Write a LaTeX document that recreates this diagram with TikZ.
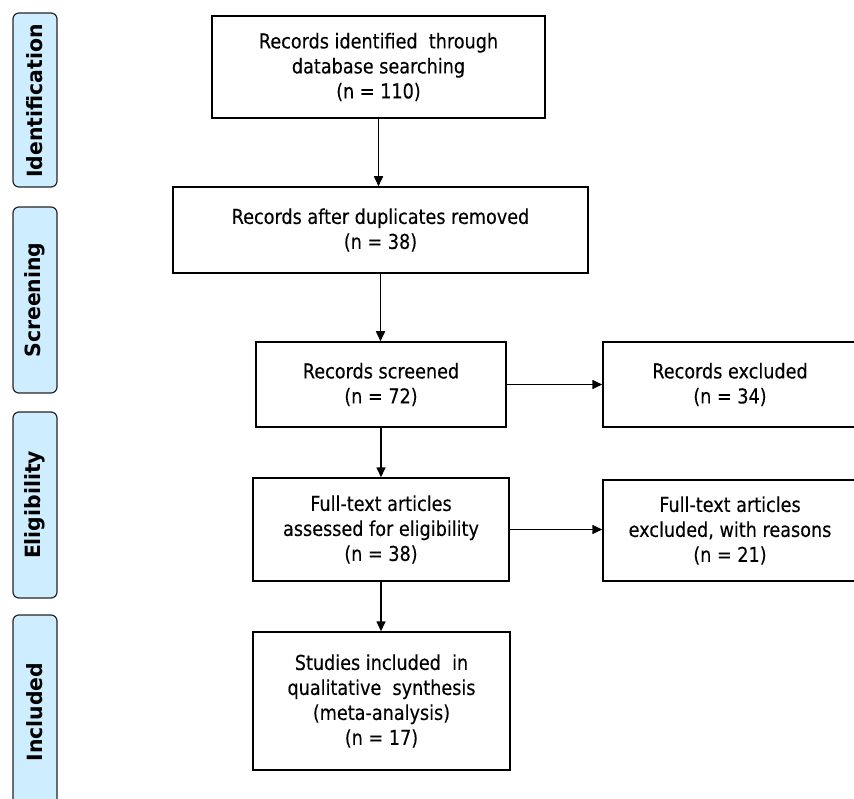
\documentclass[tikz,border=0pt]{standalone}
\usepackage{fontspec}
\setmainfont{DejaVu Sans}[FakeStretch=0.86,FakeBold=0.2]
\newfontfamily\phasefont{DejaVu Sans}[FakeStretch=0.97]
\usetikzlibrary{arrows.meta}
\definecolor{phasefill}{RGB}{206,238,255}
\begin{document}
\begin{tikzpicture}[x=1pt,y=-1pt,
  box/.style={draw=black,line width=1.5pt,fill=white,align=center,inner sep=0pt,
    font=\fontsize{20.5}{25}\selectfont},
  phase/.style={draw=black!85,line width=1.2pt,fill=phasefill,rounded corners=6pt},
  phasetext/.style={rotate=90,font=\phasefont\fontsize{21}{22}\selectfont\bfseries,inner sep=0pt},
  arr/.style={line width=1.6pt,-{Triangle[length=10pt,width=9pt]}}]
\useasboundingbox (0,0) rectangle (854,799);
\fill[white] (0,0) rectangle (854,799);
% phase bars
\draw[phase] (13,13) rectangle (57,187);
\node[phasetext] (pid) at (35,101) {Identification};
\draw[phase] (13,207) rectangle (57,393);
\node[phasetext] (psc) at (35,300) {Screening};
\draw[phase] (13,412) rectangle (57,598);
\node[phasetext] (pel) at (35,505) {Eligibility};
\draw[phase] (13,615) rectangle (57,830);
\node[phasetext] (pin) at (35,712) {Included};
% boxes
\node[box,minimum width=333pt,minimum height=102pt] (b1) at (378.5,67)
  {Records identified\ \ through\\database searching\\(n = 110)};
\node[box,minimum width=415pt,minimum height=86pt] (b2) at (380.5,230)
  {Records after duplicates\ removed\\(n = 38)};
\node[box,minimum width=250pt,minimum height=85pt] (b3) at (381,384.5)
  {Records screened\\(n = 72)};
\node[box,minimum width=254pt,minimum height=85pt] (b4) at (730,384.5)
  {Records excluded\\(n = 34)};
\node[box,minimum width=256pt,minimum height=103pt] (b5) at (381,529.5)
  {Full-text\ articles\\assessed for eligibility\\(n = 38)};
\node[box,minimum width=254pt,minimum height=101pt] (b6) at (730,530.5)
  {Full-text\ articles\\excluded, with\ reasons\\(n = 21)};
\node[box,minimum width=257pt,minimum height=138pt] (b7) at (381.5,701)
  {Studies included\ \ in\\qualitative\ \ synthesis\\(meta-analysis)\\(n = 17)};
% arrows
\draw[arr] (b1.south) -- (b1.south |- b2.north);
\draw[arr] (b2.south) -- (b2.south |- b3.north);
\draw[arr] (b3.east) -- (b3.east -| b4.west);
\draw[arr] (b3.south) -- (b3.south |- b5.north);
\draw[arr] (b5.east) -- (b5.east -| b6.west);
\draw[arr] (b5.south) -- (b5.south |- b7.north);
\end{tikzpicture}
\end{document}
